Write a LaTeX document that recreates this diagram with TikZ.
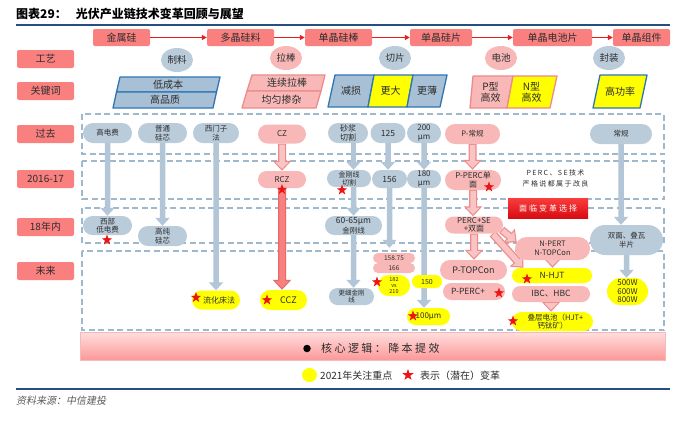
\documentclass[tikz,border=0pt]{standalone}
\usepackage{fontspec}
\setmainfont{Noto Sans CJK SC}
\newfontfamily\cjkit[FakeSlant=0.2]{Noto Sans CJK SC}
\usetikzlibrary{shapes.geometric,shapes.misc,arrows.meta,calc}
\definecolor{hdrRed}{RGB}{250,128,128}
\definecolor{pinkN}{RGB}{248,184,184}
\definecolor{pinkL}{RGB}{249,196,196}
\definecolor{pinkB}{RGB}{238,138,138}
\definecolor{pinkD}{RGB}{226,108,108}
\definecolor{grayN}{RGB}{186,203,218}
\definecolor{grayA}{RGB}{178,198,216}
\definecolor{dashC}{RGB}{160,184,204}
\definecolor{blueB}{RGB}{46,117,182}
\definecolor{blueF}{RGB}{168,192,214}
\definecolor{titleBlue}{RGB}{38,78,128}
\definecolor{yel}{RGB}{255,255,0}
\definecolor{txt}{RGB}{45,45,45}
\definecolor{arrRed}{RGB}{230,30,30}
\definecolor{starRed}{RGB}{236,20,20}
\definecolor{boxTop}{RGB}{250,60,60}
\definecolor{boxBot}{RGB}{214,12,18}
\definecolor{barTop}{RGB}{255,222,222}
\definecolor{barBot}{RGB}{252,152,152}
\definecolor{srcGray}{RGB}{90,90,90}
\pgfdeclarelayer{back}\pgfdeclarelayer{mid}\pgfsetlayers{back,mid,main}
\newcommand\fsz[1]{\fontsize{#1}{#1}\selectfont}
\tikzset{
  hdr/.style={rectangle, rounded corners=2pt, fill=hdrRed, minimum height=17pt, inner sep=0pt, font=\fsz{10}, text=txt},
  lbl/.style={hdr, minimum width=57pt, minimum height=18pt},
  proc/.style={ellipse, minimum width=32pt, minimum height=24pt, inner sep=0pt, font=\fsz{9.5}, text=txt},
  pill/.style={rounded rectangle, inner sep=0pt, align=center, font=\fontsize{7.5}{8.5}\selectfont, text=txt},
  gp/.style={pill, fill=grayN},
  pp/.style={pill, fill=pinkN},
  yp/.style={pill, fill=yel},
  rstar/.style={star, star points=5, star point ratio=2.5, fill=starRed, inner sep=0pt, minimum size=11pt},
  garr/.style={draw=grayA, line width=5.5pt, -{Triangle[length=8pt,width=14pt]}},
  parrO/.style={draw=pinkB, line width=8pt, -{Triangle[length=10pt,width=18pt]}},
  parrI/.style={draw=pinkL, line width=5.5pt, shorten >=1.8pt, shorten <=1pt, -{Triangle[length=7pt,width=13pt]}},
  parrI2/.style={parrI, draw=hdrRed},
  redarr/.style={draw=arrRed, line width=1.2pt, -{Triangle[length=5pt,width=5pt]}},
  dashbox/.style={draw=dashC, line width=1.6pt, dash pattern=on 6pt off 3.5pt},
  para/.style={line width=1.3pt, line join=round},
  kw/.style={font=\fsz{10}, text=txt, align=center, inner sep=0pt},
}
\begin{document}
\begin{tikzpicture}[x=1pt,y=-1pt]
\useasboundingbox (0,0) rectangle (682,424);
\begin{pgfonlayer}{back}
\fill[white] (0,0) rectangle (682,424);
\draw[dashbox] (82,114) rectangle (664,154);
\draw[dashbox] (82,161) rectangle (664,199);
\draw[dashbox] (82,208) rectangle (664,243);
\draw[dashbox] (82,251) rectangle (664,330);
\end{pgfonlayer}

% title
\node[anchor=west, font=\fsz{12}\bfseries, inner sep=0pt] (title) at (16,13.5) {图表29：\hspace{9pt}光伏产业链技术变革回顾与展望};
\draw[line width=2pt, titleBlue] (16,24.5) -- (670,24.5);

% header chain
\node[hdr, minimum width=57pt] (h1) at (121.5,37.5) {金属硅};
\node[hdr, minimum width=67pt] (h2) at (240.5,37.5) {多晶硅料};
\node[hdr, minimum width=67pt] (h3) at (338.5,37.5) {单晶硅棒};
\node[hdr, minimum width=62pt] (h4) at (441,37.5) {单晶硅片};
\node[hdr, minimum width=79pt] (h5) at (552.5,37.5) {单晶电池片};
\node[hdr, minimum width=57pt] (h6) at (641.5,37.5) {单晶组件};
\draw[redarr] (h1) -- (h2);
\draw[redarr] (h2) -- (h3);
\draw[redarr] (h3) -- (h4);
\draw[redarr] (h4) -- (h5);
\draw[redarr] (h5) -- (h6);

% row labels
\node[lbl] (l1) at (45.5,59) {工艺};
\node[lbl] (l2) at (45.5,91) {关键词};
\node[lbl] (l3) at (45.5,134) {过去};
\node[lbl] (l4) at (45.5,179) {2016-17};
\node[lbl] (l5) at (45.5,227) {18年内};
\node[lbl] (l6) at (45.5,271) {未来};

% process ellipses
\node[proc, fill=grayN] (p1) at (177,60) {制料};
\node[proc, fill=pinkN] (p2) at (286,58) {拉棒};
\node[proc, fill=grayN] (p3) at (395,58) {切片};
\node[proc, fill=pinkN] (p4) at (501,58) {电池};
\node[proc, fill=grayN] (p5) at (609,58) {封装};

% keyword parallelograms
\draw[para, fill=blueF, draw=blueB] (116.5,92) -- (216.5,92) -- (220,77) -- (120,77) -- cycle;
\draw[para, fill=blueF, draw=blueB] (113,108) -- (213,108) -- (216.5,92) -- (116.5,92) -- cycle;
\node[kw] (k1) at (168,84.5) {低成本};
\node[kw] (k2) at (165,100) {高品质};
\draw[para, fill=pinkN, draw=pinkB] (247,91) -- (321,91) -- (325,75) -- (252,75) -- cycle;
\draw[para, fill=pinkN, draw=pinkB] (242,108) -- (316,108) -- (321,91) -- (247,91) -- cycle;
\node[kw] (k3) at (287,83) {连续拉棒};
\node[kw] (k4) at (281.5,99.5) {均匀掺杂};
\draw[para, fill=blueF, draw=blueB] (328,107) -- (368,107) -- (374,75) -- (335,75) -- cycle;
\draw[para, fill=yel, draw=blueB] (368,107) -- (407,107) -- (413,75) -- (374,75) -- cycle;
\draw[para, fill=blueF, draw=blueB] (407,107) -- (440,107) -- (447,75) -- (413,75) -- cycle;
\node[kw] (k5) at (351,91) {减损};
\node[kw] (k6) at (390.5,91) {更大};
\node[kw] (k7) at (427,91) {更薄};
\draw[para, fill=pinkN, draw=pinkB] (470,108) -- (507,108) -- (513,76) -- (473,76) -- cycle;
\draw[para, fill=yel, draw=pinkB] (507,108) -- (550,108) -- (557,76) -- (513,76) -- cycle;
\node[kw, font=\fontsize{10}{11}\selectfont] (k8) at (490.5,92) {P型\\高效};
\node[kw, font=\fontsize{10}{11}\selectfont] (k9) at (531.5,92) {N型\\高效};
\draw[para, fill=yel, draw=blueB] (593,108) -- (640,108) -- (647,75) -- (600,75) -- cycle;
\node[kw] (k10) at (620,91.5) {高功率};

% past row
\node[gp, minimum width=49pt, minimum height=20pt] (a1) at (107.5,133) {高电费};
\node[gp, minimum width=49pt, minimum height=20pt] (a2) at (162.5,133) {普通\\硅芯};
\node[gp, minimum width=46pt, minimum height=20pt] (a3) at (216,133) {西门子\\法};
\node[pp, minimum width=48pt, minimum height=19pt, font=\fsz{8}] (a4) at (282,134) {CZ};
\node[gp, minimum width=40pt, minimum height=20pt, font=\fontsize{8}{9}\selectfont] (a5) at (348,133) {砂浆\\切割};
\node[gp, minimum width=35pt, minimum height=20pt, font=\fsz{8.5}] (a6) at (388,133) {125};
\node[gp, minimum width=34pt, minimum height=20pt, font=\fontsize{8}{9}\selectfont] (a7) at (424,133) {200\\μm};
\node[pp, minimum width=55pt, minimum height=20pt] (a8) at (472.5,134) {P-常规};
\node[gp, minimum width=62pt, minimum height=20pt] (a9) at (621,134) {常规};

% 2016-17 row
\node[pp, minimum width=48pt, minimum height=17pt, font=\fsz{8}] (b4) at (282,179.5) {RCZ};
\node[gp, minimum width=44pt, minimum height=17pt, font=\fontsize{7}{8}\selectfont] (b5) at (349,178.5) {金刚线\\切割};
\node[gp, minimum width=35pt, minimum height=18pt, font=\fsz{8.5}] (b6) at (389.5,179) {156};
\node[gp, minimum width=34pt, minimum height=18pt, font=\fontsize{8}{9}\selectfont] (b7) at (424,179) {180\\μm};
\node[pp, minimum width=56pt, minimum height=20pt, font=\fontsize{8}{9}\selectfont] (b8) at (473,180) {P-PERC单\\面};
\node[font=\fontsize{7}{10.5}\selectfont\addfontfeature{LetterSpace=20}, text=txt, align=center, inner sep=0pt] (note) at (555.5,178.5) {PERC、SE技术\\严格说都属于改良};

% 18 row
\node[gp, minimum width=49pt, minimum height=19pt] (c1) at (107.5,225.5) {西部\\低电费};
\node[gp, minimum width=49pt, minimum height=20pt] (c2) at (162.5,236) {高纯\\硅芯};
\node[gp, minimum width=57pt, minimum height=19pt, font=\fontsize{8.5}{9.5}\selectfont] (c5) at (353.5,225.5) {60-65μm\\{\fsz{7.5}金刚线}};
\node[pp, minimum width=58pt, minimum height=17pt, font=\fontsize{8}{8.5}\selectfont] (c8) at (474,225) {PERC+SE\\+双面};
\node[pp, minimum width=75pt, minimum height=23pt, font=\fontsize{7.5}{9}\selectfont] (c9) at (552.5,248.5) {N-PERT\\N-TOPCon};
\node[gp, minimum width=73pt, minimum height=30pt, font=\fontsize{7.5}{9}\selectfont] (c10) at (626.5,240) {双面、叠瓦\\半片};
\node[rectangle, minimum width=80pt, minimum height=20pt, top color=boxTop, bottom color=boxBot, text=white, inner sep=0pt, font=\fsz{8}\addfontfeature{LetterSpace=25}] (rb) at (548,208) {面临变革选择};

% future row
\node[yp, minimum width=48pt, minimum height=19pt, font=\fsz{8}] (d3) at (216,300) {\hspace{6pt}流化床法};
\node[yp, minimum width=47pt, minimum height=20pt, font=\fsz{9}] (d4) at (283.5,300) {\hspace{10pt}CCZ};
\node[gp, minimum width=45pt, minimum height=17pt, font=\fontsize{6.5}{7.5}\selectfont] (d5) at (351.5,296.5) {更细金刚\\线};
\node[pp, minimum width=42pt, minimum height=10pt, font=\fsz{6.5}] (d6a) at (394,258) {158.75};
\node[pp, minimum width=42pt, minimum height=10pt, font=\fsz{6.5}] (d6b) at (394,268) {166};
\node[yp, minimum width=32pt, minimum height=21pt, font=\fontsize{5.5}{6.2}\selectfont] (d6c) at (394,285.5) {182\\vs\\210};
\node[yp, minimum width=30pt, minimum height=13pt, font=\fsz{7}] (d7a) at (427,281.5) {150};
\node[yp, minimum width=43pt, minimum height=17pt, font=\fsz{8}] (d7b) at (428.5,316.5) {100μm};
\node[pp, minimum width=67pt, minimum height=20pt, font=\fsz{9}] (d8a) at (473.5,270) {P-TOPCon};
\node[pp, minimum width=62pt, minimum height=17pt, font=\fsz{8.5}] (d8b) at (474,291.5) {P-PERC+\hspace{12pt}};
\node[yp, minimum width=80pt, minimum height=15pt, font=\fsz{8.5}] (d9a) at (552,275.5) {N-HJT};
\node[pp, minimum width=78pt, minimum height=16pt, font=\fsz{8.5}] (d9b) at (551,294) {IBC、HBC};
\node[yp, minimum width=81pt, minimum height=19pt, font=\fontsize{7.5}{8.5}\selectfont] (d9c) at (552.5,321.5) {\hspace{6pt}叠层电池（HJT+\\钙钛矿）};
\node[yp, minimum width=41pt, minimum height=27pt, font=\fontsize{8}{8.5}\selectfont] (d10) at (627.5,291.5) {500W\\600W\\800W};

% connectors
\begin{pgfonlayer}{mid}
\draw[garr] (a1) -- (c1);
\draw[garr] (a2) -- (c2);
\draw[garr] (a3) -- (a3 |- d3.north);
\draw[garr] (a5.south -| c5) -- (b5.north -| c5);
\draw[garr] (b5.south -| c5) -- (c5);
\draw[garr] (c5) -- (c5 |- d5.north);
\draw[garr] (a6) -- (a6 |- b6.north);
\draw[garr, shorten >=5pt] (b6) -- (b6 |- d6a.north);
\draw[garr] (a7) -- (b7);
\draw[garr] (b7) -- (b7 |- d7b.north);
\draw[garr] (a9) -- (a9 |- c10.north);
\draw[garr] (c10) -- (c10 |- d10.north);
\draw[parrO] (a4) -- (b4);
\draw[parrI] (a4) -- (b4);
\draw[parrO, draw=pinkD] (b4) -- (b4 |- d4.north);
\draw[parrI2] (b4) -- (b4 |- d4.north);
\draw[parrO] (a8) -- (a8 |- b8.north);
\draw[parrI] (a8) -- (a8 |- b8.north);
\draw[parrO] (b8) -- (b8 |- c8.north);
\draw[parrI] (b8) -- (b8 |- c8.north);
\draw[parrO] (c8) -- (c8 |- d8a.north);
\draw[parrI] (c8) -- (c8 |- d8a.north);
\draw[parrO] (c8.350) -- (c9.170);
\draw[parrI] (c8.350) -- (c9.170);
\draw[parrO] (c8.335) -- (d9a.165);
\draw[parrI] (c8.335) -- (d9a.165);
\draw[parrO] (c9) -- (c9 |- d9a.north);
\draw[parrI] (c9) -- (c9 |- d9a.north);
\draw[parrO] (d9b) -- (d9b |- d9c.north);
\draw[parrI] (d9b) -- (d9b |- d9c.north);
\end{pgfonlayer}

% stars
\node[rstar] (s1) at (107,240) {};
\node[rstar] (s2) at (196,297.5) {};
\node[rstar] (s3) at (282,189.5) {};
\node[rstar] (s4) at (267,300) {};
\node[rstar] (s5) at (342,190) {};
\node[rstar] (s6) at (377,282) {};
\node[rstar] (s7) at (413,316) {};
\node[rstar] (s8) at (489,187) {};
\node[rstar] (s9) at (499,293) {};
\node[rstar] (s10) at (527,279) {};
\node[rstar] (s11) at (513,321) {};

% core bar
\node[rectangle, minimum width=585pt, minimum height=28pt, top color=barTop, bottom color=barBot, draw=pinkB!60, line width=0.6pt, inner sep=0pt] (bar) at (372.5,346) {};
\node[circle, fill=black, minimum size=7.5pt, inner sep=0pt] (dot) at (307,348.5) {};
\node[anchor=west, inner sep=0pt, text=txt, font=\fsz{11}\addfontfeature{LetterSpace=22}] (core) at (321,348.5) {核心逻辑：降本提效};

% legend
\node[ellipse, fill=yel, minimum width=15pt, minimum height=14pt, inner sep=0pt] (lg1) at (309.5,375) {};
\node[anchor=west, inner sep=0pt, font=\fsz{10}, text=txt] (lg1t) at (320,375.5) {2021年关注重点};
\node[rstar, minimum size=12pt] (lg2) at (408,375) {};
\node[anchor=west, inner sep=0pt, font=\fsz{10}, text=txt] (lg2t) at (420,375.5) {表示（潜在）变革};

% source
\draw[line width=2pt, titleBlue] (16,389) -- (670,389);
\node[anchor=west, inner sep=0pt, font=\cjkit\fsz{10}, text=srcGray] (src) at (16,400.5) {资料来源：中信建投};
\end{tikzpicture}
\end{document}
